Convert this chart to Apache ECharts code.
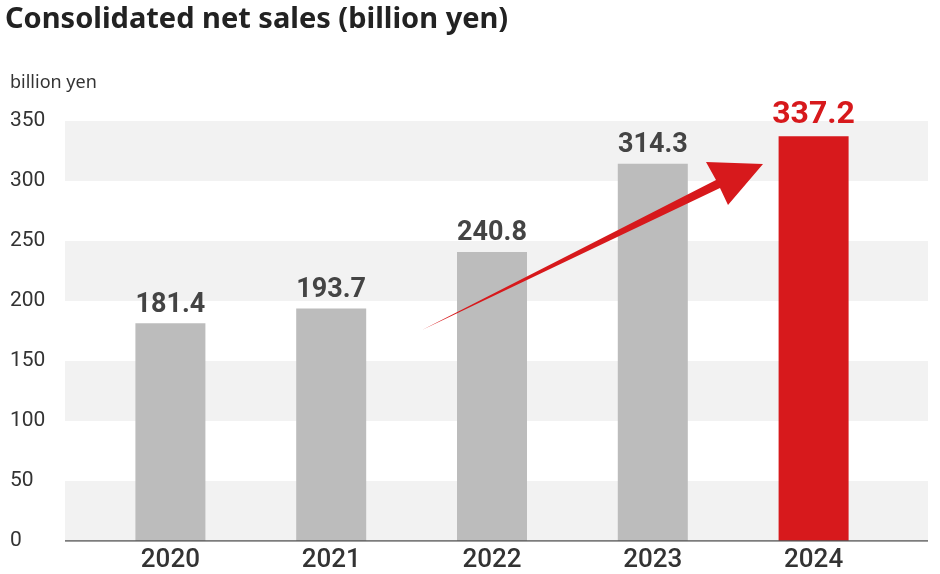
<!DOCTYPE html><html><head><meta charset="utf-8"><script src="https://cdn.jsdelivr.net/npm/echarts@6/dist/echarts.min.js"></script></head><body style="margin:0"><div id="c" style="width:940px;height:574px"></div><script>
const years=['2020','2021','2022','2023','2024'];
const sales=[181.4,193.7,240.8,314.3,337.2];
const yTicks=[0,350,50];
const ch=echarts.init(document.getElementById('c'));
const F='Roboto, "Noto Sans", sans-serif';
ch.setOption({
 animation:false,
 title:{text:'Consolidated net sales (billion yen)',left:0,top:0,textStyle:{fontFamily:'"Noto Sans", sans-serif',fontSize:29,fontWeight:'bold',color:'#222'}},
 graphic:[
  {type:'text',left:10,top:74,style:{text:'billion yen',font:'18px "Noto Sans", sans-serif',fill:'#333'}},
  {type:'polygon',z:10,shape:{points:[[422,330],[716,180],[706,162],[763,164],[728,205],[720,188]]},style:{fill:'#d7191c'}}
 ],
 grid:[{left:65,right:12,top:121,bottom:33},{left:90,right:46,top:121,bottom:33}],
 xAxis:[
  {gridIndex:0,type:'value',min:0,max:1,show:false},
  {gridIndex:1,type:'category',data:years,axisTick:{show:false},axisLine:{show:false},
   axisLabel:{fontFamily:F,fontSize:26,fontWeight:500,color:'#333',margin:6}}
 ],
 yAxis:[
  {gridIndex:0,type:'value',min:yTicks[0],max:yTicks[1],interval:yTicks[2],
   axisLabel:{fontFamily:F,fontSize:21,color:'#333',margin:55,align:'left'},
   axisTick:{show:false},
   splitLine:{show:false},splitArea:{show:true,areaStyle:{color:['#f2f2f2','#ffffff']}},
   axisLine:{show:false}},
  {gridIndex:1,type:'value',min:yTicks[0],max:yTicks[1],interval:yTicks[2],show:false}
 ],
 series:[
  {type:'line',xAxisIndex:0,yAxisIndex:0,data:[[0,0],[1,0]],symbol:'none',lineStyle:{color:'#555',width:1.5},silent:true},
  {type:'bar',xAxisIndex:1,yAxisIndex:1,barWidth:70,
   data:sales.map((v,i)=>({value:v,itemStyle:{color:i===4?'#d7191c':'#bcbcbc'},
     label:i===4?{color:'#d7191c',fontSize:32}:{}})),
   label:{show:true,position:'top',distance:5,fontFamily:F,fontWeight:'bold',fontSize:27,color:'#444',formatter:p=>p.value.toFixed(1)}}
 ]
});
</script></body></html>
